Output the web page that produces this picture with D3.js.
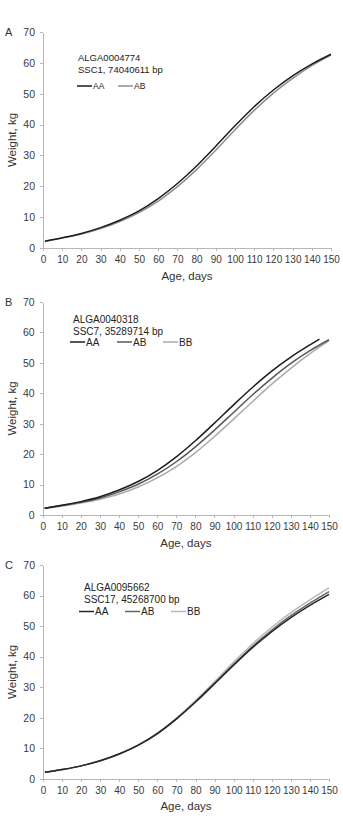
<!DOCTYPE html>
<html>
<head>
<meta charset="utf-8">
<script src="https://cdn.jsdelivr.net/npm/d3@7/dist/d3.min.js"></script>
<style>
  body { margin: 0; background: #fff; }
  svg { display: block; font-family: "Liberation Sans", Arial, sans-serif; }
  .axis path, .axis line { stroke: #b8b8b8; shape-rendering: crispEdges; }
  .axis text { fill: #3a3a3a; font-size: 10px; }
  .axis.yax text { font-size: 10.5px; }
</style>
</head>
<body>
<svg id="chart" width="343" height="818"></svg>
<script>
// growth curves for three markers, weight (kg) at each age (days)
var ages = [1, 10, 20, 30, 40, 50, 60, 70, 80, 90, 100, 110, 120, 130, 140, 150];
var agesShort = [1, 10, 20, 30, 40, 50, 60, 70, 80, 90, 100, 110, 120, 130, 140, 145];
var xTicks = [0, 10, 20, 30, 40, 50, 60, 70, 80, 90, 100, 110, 120, 130, 140, 150];
var yTicks = [0, 10, 20, 30, 40, 50, 60, 70];

// panel A - ALGA0004774
var a_AA = [2.2, 3.3, 4.7, 6.6, 9.0, 12.0, 16.0, 20.9, 26.6, 33.0, 39.6, 45.8, 51.2, 55.8, 59.6, 62.8];
var a_AB = [2.1, 3.2, 4.5, 6.3, 8.6, 11.5, 15.2, 19.9, 25.4, 31.7, 38.3, 44.6, 50.2, 55.0, 59.1, 62.5];

// panel B - ALGA0040318 (AA stops at 145 days)
var b_AA = [2.2, 3.2, 4.4, 6.0, 8.2, 11.0, 14.6, 19.1, 24.4, 30.2, 36.2, 42.0, 47.3, 51.9, 55.9, 57.8];
var b_AB = [2.2, 3.1, 4.2, 5.6, 7.6, 10.1, 13.4, 17.5, 22.4, 27.9, 33.7, 39.5, 44.9, 49.8, 54.0, 57.6];
var b_BB = [2.1, 2.9, 3.9, 5.2, 6.9, 9.2, 12.2, 15.9, 20.5, 25.8, 31.5, 37.3, 43.0, 48.2, 53.0, 57.3];

// panel C - ALGA0095662
var c_AA = [2.1, 3.0, 4.2, 5.9, 8.1, 11.0, 14.8, 19.6, 25.1, 31.1, 37.2, 43.0, 48.2, 52.8, 56.8, 60.4];
var c_AB = [2.1, 3.0, 4.2, 5.9, 8.1, 11.0, 14.8, 19.6, 25.2, 31.3, 37.5, 43.4, 48.7, 53.4, 57.5, 61.3];
var c_BB = [2.1, 3.0, 4.2, 5.9, 8.2, 11.1, 15.0, 19.9, 25.6, 31.8, 38.2, 44.2, 49.6, 54.4, 58.6, 62.5];

var titles = [
    ["ALGA0004774", "SSC1, 74040611 bp"],
    ["ALGA0040318", "SSC7, 35289714 bp"],
    ["ALGA0095662", "SSC17, 45268700 bp"]
];

// layout of each panel (pixel boxes, label spots)
var panels = [
    { letter: "A", x0: 43, x1: 331, y0: 32, y1: 248, tx: 78, ty: [60.5, 72.5], ly: 86, lx: [77, 118], lfont: 8.5, tfont: 9.5,
      series: [{ name: "AA", x: ages, y: a_AA, color: "#1c1c1c" }, { name: "AB", x: ages, y: a_AB, color: "#8e8e8e" }] },
    { letter: "B", x0: 42.7, x1: 329, y0: 302, y1: 515, tx: 73, ty: [322.5, 334.5], ly: 342, lx: [70, 117, 163], lfont: 10, tfont: 10,
      series: [{ name: "AA", x: agesShort, y: b_AA, color: "#1c1c1c" }, { name: "AB", x: ages, y: b_AB, color: "#575757" }, { name: "BB", x: ages, y: b_BB, color: "#ababab" }] },
    { letter: "C", x0: 43, x1: 329, y0: 565, y1: 778.7, tx: 84, ty: [590.5, 602.5], ly: 611.5, lx: [79, 125, 171], lfont: 10, tfont: 10,
      series: [{ name: "AA", x: ages, y: c_AA, color: "#262626" }, { name: "AB", x: ages, y: c_AB, color: "#666666" }, { name: "BB", x: ages, y: c_BB, color: "#b8b8b8" }] }
];

var svg = d3.select("#chart");

panels.forEach(function (p, i) {
    var x = d3.scaleLinear().domain([0, 150]).range([p.x0, p.x1]);
    var y = d3.scaleLinear().domain([0, 70]).range([p.y1, p.y0]);
    var g = svg.append("g");

    // axes
    g.append("g").attr("class", "axis")
        .attr("transform", "translate(0," + p.y1 + ")")
        .call(d3.axisBottom(x).tickValues(xTicks).tickSize(3).tickSizeOuter(0).tickPadding(5));
    g.append("g").attr("class", "axis yax")
        .attr("transform", "translate(" + p.x0 + ",0)")
        .call(d3.axisLeft(y).tickValues(yTicks).tickSize(3).tickSizeOuter(0).tickPadding(5));

    // axis titles + panel letter
    g.append("text").attr("x", (p.x0 + p.x1) / 2).attr("y", p.y1 + 31.5)
        .attr("text-anchor", "middle").attr("font-size", 11.5).attr("fill", "#333").text("Age, days");
    g.append("text").attr("transform", "translate(16," + (p.y0 + p.y1) / 2 + ") rotate(-90)")
        .attr("text-anchor", "middle").attr("font-size", 11.5).attr("fill", "#333").text("Weight, kg");
    g.append("text").attr("x", 5).attr("y", p.y0 + 4).attr("font-size", 11).attr("fill", "#333").text(p.letter);

    // the curves
    var line = d3.line().curve(d3.curveMonotoneX);
    p.series.slice().reverse().forEach(function (s) {
        var pts = s.x.map(function (a, k) { return [x(a), y(s.y[k])]; });
        g.append("path").attr("d", line(pts))
            .attr("fill", "none").attr("stroke", s.color).attr("stroke-width", 1.5);
    });

    // marker name and position
    g.append("text").attr("x", p.tx).attr("y", p.ty[0]).attr("font-size", p.tfont).attr("fill", "#222").text(titles[i][0]);
    g.append("text").attr("x", p.tx).attr("y", p.ty[1]).attr("font-size", p.tfont).attr("fill", "#222").text(titles[i][1]);

    // legend
    p.series.forEach(function (s, k) {
        var lx = p.lx[k];
        g.append("line").attr("x1", lx).attr("x2", lx + 15).attr("y1", p.ly).attr("y2", p.ly)
            .attr("stroke", s.color).attr("stroke-width", 1.5);
        g.append("text").attr("x", lx + 16).attr("y", p.ly + p.lfont * 0.36)
            .attr("font-size", p.lfont).attr("fill", "#222").text(s.name);
    });
});
</script>
</body>
</html>
